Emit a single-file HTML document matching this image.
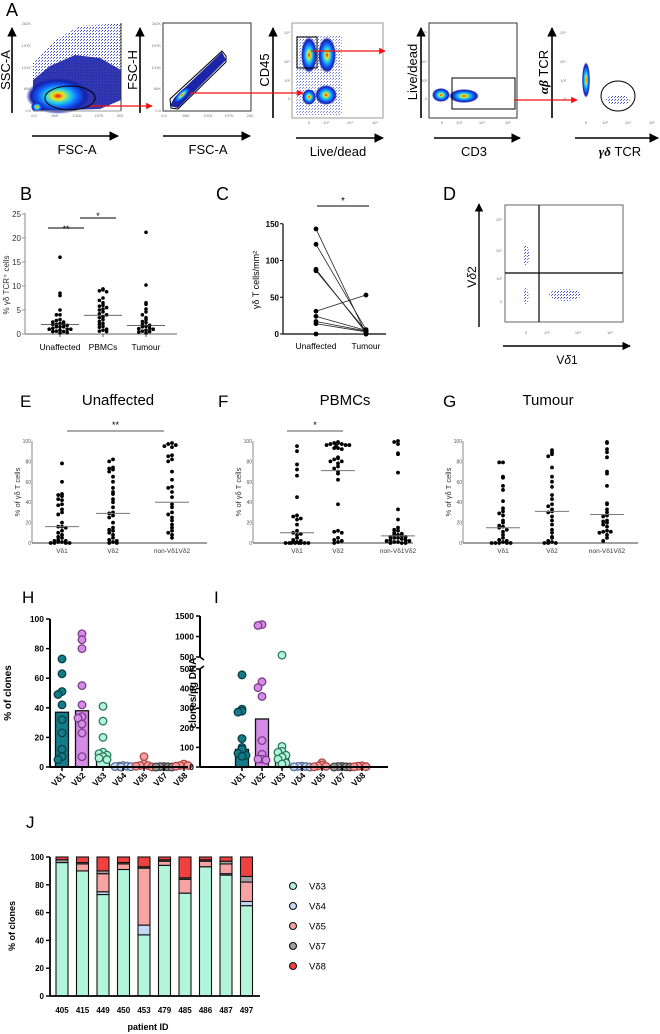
<!DOCTYPE html>
<html><head><meta charset="utf-8">
<style>
html,body{margin:0;padding:0;background:#fff;}
svg{display:block;font-family:"Liberation Sans",sans-serif;}
</style></head>
<body>
<svg id="fig" xmlns="http://www.w3.org/2000/svg" width="660" height="1034" viewBox="0 0 660 1034">
<defs>
<radialGradient id="jet">
<stop offset="0" stop-color="#e81010"/><stop offset="0.18" stop-color="#f2e21c"/><stop offset="0.38" stop-color="#22d4e6"/><stop offset="0.62" stop-color="#1262ff"/><stop offset="0.85" stop-color="#1522a8"/><stop offset="1" stop-color="#1522a8" stop-opacity="0"/>
</radialGradient>
<pattern id="dots" width="3" height="3" patternUnits="userSpaceOnUse"><rect x="0" y="0" width="1" height="1" fill="#3040d0"/><rect x="2" y="1" width="1" height="1" fill="#6070e0"/></pattern>
<marker id="ah" viewBox="0 0 10 10" refX="9" refY="5" markerWidth="6" markerHeight="6" orient="auto"><path d="M0,0 L10,5 L0,10 z" fill="#000"/></marker>
<marker id="ahr" viewBox="0 0 10 10" refX="9" refY="5" markerWidth="5" markerHeight="5" orient="auto"><path d="M0,0 L10,5 L0,10 z" fill="#f01010"/></marker>
</defs>

<g>
<text x="6" y="16" font-size="18">A</text>
<g>
<polygon points="33,111 33,62 55,40 80,26 121,23 121,98 105,108" fill="url(#dots)"/>
<polygon points="33,111 33,80 50,66 75,55 100,58 121,70 121,100 100,109" fill="#1c24a8" opacity="0.9"/>
<ellipse cx="58" cy="96" rx="32" ry="18" fill="url(#jet)"/>
<ellipse cx="37" cy="107" rx="6" ry="5" fill="url(#jet)"/>
<ellipse cx="70" cy="98" rx="25" ry="12" fill="none" stroke="#000" stroke-width="1"/>
<line x1="121" y1="23" x2="121" y2="111" stroke="#333"/>
<line x1="33" y1="111" x2="121" y2="111" stroke="#999"/>
<g font-size="4" fill="#777"><text x="31" y="25" text-anchor="end">262K</text><text x="31" y="47" text-anchor="end">197K</text><text x="31" y="69" text-anchor="end">131K</text><text x="31" y="90" text-anchor="end">66K</text><text x="31" y="112" text-anchor="end">0.0</text>
<text x="34" y="117" text-anchor="middle">0.0</text><text x="55" y="117" text-anchor="middle">66K</text><text x="77" y="117" text-anchor="middle">131K</text><text x="99" y="117" text-anchor="middle">197K</text><text x="120" y="117" text-anchor="middle">262</text></g>
</g>
<g>
<rect x="163" y="23" width="88" height="88" fill="none" stroke="#333"/>
<polygon points="170,106 174,98 222,52 226,60 178,108" fill="#1c24a8"/>
<ellipse cx="182" cy="95" rx="12" ry="4" transform="rotate(-45 182 95)" fill="url(#jet)"/>
<polygon points="171,108 170,99 222,51 226,56 226,62 178,109" fill="none" stroke="#000" stroke-width="1"/>
<g font-size="4" fill="#777"><text x="161" y="25" text-anchor="end">262K</text><text x="161" y="47" text-anchor="end">197K</text><text x="161" y="69" text-anchor="end">131K</text><text x="161" y="90" text-anchor="end">66K</text><text x="161" y="112" text-anchor="end">0.0</text>
<text x="164" y="117" text-anchor="middle">0.0</text><text x="186" y="117" text-anchor="middle">66K</text><text x="208" y="117" text-anchor="middle">131K</text><text x="229" y="117" text-anchor="middle">197K</text><text x="250" y="117" text-anchor="middle">262</text></g>
</g>
<g>
<rect x="292" y="23" width="91" height="95" fill="none" stroke="#999"/>
<rect x="296" y="35" width="46" height="80" fill="url(#dots)" opacity="0.7"/>
<ellipse cx="309" cy="55" rx="8" ry="18" fill="url(#jet)"/>
<ellipse cx="327" cy="55" rx="9" ry="18" fill="url(#jet)"/>
<ellipse cx="309" cy="97" rx="7" ry="8" fill="url(#jet)"/>
<ellipse cx="326" cy="95" rx="11" ry="10" fill="url(#jet)"/>
<rect x="297" y="37" width="20" height="31" fill="none" stroke="#000"/>
<g font-size="4" fill="#777"><text x="290" y="34" text-anchor="end">10⁵</text><text x="290" y="63" text-anchor="end">10⁴</text><text x="290" y="82" text-anchor="end">10³</text><text x="290" y="100" text-anchor="end">0</text>
<text x="309" y="124" text-anchor="middle">0</text><text x="326" y="124" text-anchor="middle">10³</text><text x="350" y="124" text-anchor="middle">10⁴</text><text x="375" y="124" text-anchor="middle">10⁵</text></g>
</g>
<g>
<rect x="429" y="23" width="88" height="95" fill="none" stroke="#333"/>
<ellipse cx="441" cy="95" rx="9" ry="7" fill="url(#jet)"/>
<ellipse cx="464" cy="96" rx="15" ry="7" fill="url(#jet)"/>
<rect x="452" y="78" width="63" height="31" fill="none" stroke="#000"/>
<g font-size="4" fill="#777"><text x="427" y="34" text-anchor="end">10⁵</text><text x="427" y="63" text-anchor="end">10⁴</text><text x="427" y="82" text-anchor="end">10³</text><text x="427" y="100" text-anchor="end">0</text>
<text x="442" y="124" text-anchor="middle">0</text><text x="459" y="124" text-anchor="middle">10³</text><text x="482" y="124" text-anchor="middle">10⁴</text><text x="508" y="124" text-anchor="middle">10⁵</text></g>
</g>
<g>
<ellipse cx="586" cy="80" rx="4" ry="18" fill="url(#jet)"/>
<ellipse cx="618" cy="100" rx="12" ry="5" fill="url(#dots)"/>
<ellipse cx="618" cy="96" rx="17" ry="15" fill="none" stroke="#000"/>
<g font-size="4" fill="#777"><text x="566" y="34" text-anchor="end">10⁵</text><text x="566" y="63" text-anchor="end">10⁴</text><text x="566" y="82" text-anchor="end">10³</text><text x="566" y="100" text-anchor="end">0</text>
<text x="586" y="124" text-anchor="middle">0</text><text x="605" y="124" text-anchor="middle">10³</text><text x="628" y="124" text-anchor="middle">10⁴</text><text x="652" y="124" text-anchor="middle">10⁵</text></g>
</g>
<g stroke="#000" stroke-width="1.6" marker-end="url(#ah)">
<line x1="12" y1="113" x2="12" y2="28"/><line x1="140" y1="113" x2="140" y2="28"/><line x1="273" y1="118" x2="273" y2="28"/><line x1="421" y1="118" x2="421" y2="28"/><line x1="552" y1="118" x2="552" y2="28"/>
<line x1="32" y1="136" x2="118" y2="136"/><line x1="163" y1="136" x2="250" y2="136"/><line x1="296" y1="138" x2="383" y2="138"/><line x1="434" y1="138" x2="520" y2="138"/><line x1="575" y1="138" x2="658" y2="138"/>
</g>
<g font-size="13">
<text transform="translate(10,70) rotate(-90)" text-anchor="middle">SSC-A</text>
<text transform="translate(137,70) rotate(-90)" text-anchor="middle">FSC-H</text>
<text transform="translate(269,70) rotate(-90)" text-anchor="middle">CD45</text>
<text transform="translate(417,72) rotate(-90)" text-anchor="middle">Live/dead</text>
<text transform="translate(548,72) rotate(-90)" text-anchor="middle"><tspan font-family="Liberation Serif" font-style="italic" font-weight="bold">αβ</tspan> TCR</text>
<text x="77" y="154" text-anchor="middle">FSC-A</text>
<text x="208" y="154" text-anchor="middle">FSC-A</text>
<text x="338" y="156" text-anchor="middle">Live/dead</text>
<text x="474" y="156" text-anchor="middle">CD3</text>
<text x="620" y="156" text-anchor="middle"><tspan font-family="Liberation Serif" font-style="italic" font-weight="bold">γδ</tspan> TCR</text>
</g>
<g stroke="#f01010" stroke-width="1.3" marker-end="url(#ahr)">
<line x1="90" y1="106" x2="152" y2="106"/><line x1="190" y1="93" x2="303" y2="93"/><line x1="311" y1="51" x2="385" y2="51"/><line x1="514" y1="100" x2="577" y2="100"/>
</g>
</g>

<g>
<text x="443" y="200" font-size="18">D</text>
<rect x="505" y="205" width="118" height="117" fill="none" stroke="#666"/>
<line x1="505" y1="273" x2="623" y2="273" stroke="#000" stroke-width="1.2"/>
<line x1="539" y1="205" x2="539" y2="322" stroke="#000" stroke-width="1.2"/>
<ellipse cx="526" cy="255" rx="3" ry="10" fill="url(#dots)"/>
<ellipse cx="526" cy="296" rx="2.5" ry="8" fill="url(#dots)"/>
<ellipse cx="565" cy="295" rx="16" ry="6" fill="url(#dots)"/>
<g font-size="4" fill="#777"><text x="502" y="221" text-anchor="end">10⁵</text><text x="502" y="252" text-anchor="end">10⁴</text><text x="502" y="280" text-anchor="end">10³</text><text x="502" y="303" text-anchor="end">0</text>
<text x="526" y="334" text-anchor="middle">0</text><text x="547" y="334" text-anchor="middle">10³</text><text x="578" y="334" text-anchor="middle">10⁴</text><text x="610" y="334" text-anchor="middle">10⁵</text></g>
<g stroke="#000" stroke-width="1.4" marker-end="url(#ah)"><line x1="479" y1="327" x2="479" y2="204"/><line x1="503" y1="346" x2="630" y2="346"/></g>
<text transform="translate(476,277) rotate(-90)" text-anchor="middle" font-size="12">V<tspan font-style="italic">δ</tspan>2</text>
<text x="567" y="364" text-anchor="middle" font-size="12">V<tspan font-style="italic">δ</tspan>1</text>
</g>

<g id="charts"></g>
</svg>

<script>
const bCategories = ["Unaffected","PBMCs","Tumour"];
const bUnaffected = [16,8.5,8,5,4,4,3,2.8,2.5,2.5,2.2,2,2,2,1.8,1.5,1.5,1.5,1.2,1,1,1,0.8,0.6,0.5,0.5,0.3,0.2];
const bPBMCs = [9.4,9.2,9,8.8,7.5,7,6.5,6,5.8,5.5,5.2,5,4.6,4.2,4,3.6,3.4,3,2.6,2.2,2,1.6,1.4,1,0.8,0.6,0.5];
const bTumour = [21.2,10.2,6.5,6.2,5.2,4.6,4,3.4,3,2.6,2.4,2,1.8,1.6,1.5,1.2,1.1,1,0.8,0.6,0.5,0.4,0.2];
const bMedians = [2,3.9,1.8];
const bTicks = [0,5,10,15,20,25];

const cCategories = ["Unaffected","Tumour"];
const cUnaffected = [143,122,88,86,31,24,17,14,0];
const cTumour = [0,6,2,4,53,5,4,3,0];
const cTicks = [0,50,100,150];

const efgCategories = ["Vδ1","Vδ2","non-Vδ1Vδ2"];
const eVd1 = [78,60,48,47,46,43,42,38,37,33,30,28,20,16,16,15,12,10,8,6,5,3,2,2,1,1,0,0,0,0];
const eVd2 = [82,80,74,73,72,70,65,60,54,50,48,43,40,35,30,29,27,25,20,15,13,12,10,8,5,3,2,1,0,0];
const eNon = [98,97,96,95,94,86,85,82,80,70,62,55,54,50,45,38,35,30,28,25,22,18,15,12,10,8,5];
const eMedians = [16,29,40];
const fVd1 = [95,90,77,72,66,45,27,26,24,23,18,12,10,9,8,5,3,2,1,1,0,0,0,0,0,0,0,0];
const fVd2 = [99,98,98,97,97,96,96,96,95,93,93,92,84,83,82,80,80,78,75,73,70,68,62,38,12,11,10,5,3,2,1,0];
const fNon = [100,99,97,88,87,69,33,23,15,13,12,10,9,8,8,7,6,6,5,5,4,3,3,2,2,1,1,0,0,0];
const fMedians = [10,71,7];
const gVd1 = [79,79,65,64,56,52,41,34,31,29,27,22,20,17,16,15,13,11,8,5,3,2,1,0,0,0,0,0];
const gVd2 = [91,89,87,85,74,65,60,55,47,43,38,36,33,31,30,26,22,18,13,10,6,5,2,1,0,0,0];
const gNon = [99,98,92,89,84,70,68,56,39,38,33,30,27,26,22,21,20,18,16,12,11,11,10,8,5,2];
const gMedians = [15,31,28];
const efgTicks = [0,20,40,60,80,100];

const hiCategories = ["Vδ1","Vδ2","Vδ3","Vδ4","Vδ5","Vδ7","Vδ8"];
const hBars = [37,38,7,0.5,1,0.3,1];
const hPoints = [
 [73,63,51,49,42,32,23,12,7,5],
 [90,86,80,55,42,34,33,29,23,7],
 [41,31,20,10,9,8,7,6,5],
 [1,0.5,0.5,0.3,0.2,0],
 [7,2,1,1,0.5,0],
 [0.3,0.2,0.1,0,0],
 [2,1,1,0.5]
];
const hTicks = [0,20,40,60,80,100];
const iBars = [90,245,60,3,8,2,5];
const iPoints = [
 [470,295,285,280,145,100,90,70,60,55],
 [1290,1270,435,405,360,135,65,40,40,35],
 [545,105,80,75,60,50,40,20,15],
 [4,3,2,1,0],
 [22,10,5,3,1],
 [3,2,1,0,0],
 [6,4,2,1]
];
const iTicksLow = [0,100,200,300,400,500];
const iTicksHigh = [500,1000,1500];

const jPatients = ["405","415","449","450","453","479","485","486","487","497"];
const jVd3 = [96,90,73,91,44,94,74,93,87,65];
const jVd4 = [0,0,2,0,7,0,0,0,1,3];
const jVd5 = [0,5,13,4,41,3,10,4,7,14];
const jVd7 = [2,1,2,1,1,1,1,1,2,4];
const jVd8 = [2,4,10,4,7,2,15,2,3,14];
const jSeriesNames = ["Vδ3","Vδ4","Vδ5","Vδ7","Vδ8"];
const jTicks = [0,20,40,60,80,100];

const NS = "http://www.w3.org/2000/svg";
const root = document.getElementById("charts");
function mk(tag, attrs, parent){
  const e = document.createElementNS(NS, tag);
  for (const k in attrs) e.setAttribute(k, attrs[k]);
  (parent||root).appendChild(e);
  return e;
}
function txt(str, attrs, parent){
  const t = mk("text", attrs, parent);
  t.textContent = str;
  return t;
}
function swarm(vals, cx, yf, r, gap, maxOff){
  const bins = {}; const out = [];
  vals.forEach(v => {
    const py = yf(v);
    const key = Math.round(py/(r*2));
    const k = bins[key] || 0; bins[key] = k+1;
    let off = k===0 ? 0 : (k%2 ? -1 : 1)*Math.ceil(k/2)*gap;
    if (maxOff && Math.abs(off) > maxOff){
      const n = Math.floor(maxOff/gap);
      const m = ((Math.ceil(k/2)-1) % n) + 1;
      off = (k%2 ? -1 : 1)*(m*gap - gap/2);
    }
    out.push([cx+off, py]);
  });
  return out;
}

(function(){
  const g = mk("g", {});
  
  
  const y = v => 334 - v*4.8;
  const cols = [60,103,146];
  const L = txt("B", {x:20, y:200, "font-size":18}, g);
  
  
  const ax = mk("line", {x1:25,y1:y(25)-1,x2:25,y2:334,stroke:"#999","stroke-width":1.2}, g);
  
  
  const xa = mk("line", {x1:25,y1:334,x2:177,y2:334,stroke:"#999","stroke-width":1.5}, g);
  
  
  bTicks.forEach(t => {
    const tk = txt(String(t), {x:21,y:y(t)+3,"font-size":8,"text-anchor":"end",fill:"#333"}, g);
    
    
    mk("line", {x1:22,y1:y(t),x2:25,y2:y(t),stroke:"#999"}, g);
  });
  for (let v=1; v<25; v++) if (v%5) mk("line",{x1:23.5,y1:y(v),x2:25,y2:y(v),stroke:"#bbb","stroke-width":0.6},g);
  const yt = txt("% γδ TCR⁺ cells", {transform:"translate(9,285) rotate(-90)","font-size":8,"text-anchor":"middle",fill:"#333"}, g);
  
  
  [bUnaffected,bPBMCs,bTumour].forEach((arr, ci) => {
    swarm(arr, cols[ci], y, 1.8, 3.6, 14).forEach(p => {
      const c = mk("circle", {cx:p[0], cy:p[1], r:1.8, fill:"#000"}, g);
      
      
    });
    const m = mk("line", {x1:cols[ci]-19,y1:y(bMedians[ci]),x2:cols[ci]+19,y2:y(bMedians[ci]),stroke:"#333","stroke-width":0.8}, g);
    
    
    const lb = txt(bCategories[ci], {x:cols[ci], y:350, "font-size":8.5, "text-anchor":"middle"}, g);
    
    
    mk("line",{x1:cols[ci],y1:334,x2:cols[ci],y2:337,stroke:"#555"},g);
  });
  const s1 = mk("line",{x1:48,y1:228,x2:84,y2:228,stroke:"#333","stroke-width":1.2},g);
  
  
  txt("**",{x:66,y:232,"font-size":9,"text-anchor":"middle"},g);
  const s2 = mk("line",{x1:80,y1:218,x2:116,y2:218,stroke:"#333","stroke-width":1.2},g);
  
  
  txt("*",{x:98,y:219,"font-size":9,"text-anchor":"middle"},g);
})();

(function(){
  const g = mk("g", {});
  
  
  const y = v => 334 - v*0.735;
  const xs = [316, 366];
  const L = txt("C", {x:216, y:200, "font-size":18}, g);
  
  
  const ax = mk("line", {x1:283,y1:y(150),x2:283,y2:334,stroke:"#000","stroke-width":1.2}, g);
  
  
  const xa = mk("line", {x1:283,y1:334,x2:386,y2:334,stroke:"#000","stroke-width":1.2}, g);
  
  
  cTicks.forEach(t => {
    const tk = txt(String(t), {x:279,y:y(t)+3,"font-size":8,"text-anchor":"end","font-weight":"bold"}, g);
    
    
    mk("line", {x1:280,y1:y(t),x2:283,y2:y(t),stroke:"#000"}, g);
  });
  const yt = txt("γδ  T cells/mm²", {transform:"translate(259,280) rotate(-90)","font-size":9,"text-anchor":"middle"}, g);
  
  
  cUnaffected.forEach((v,i) => {
    const ln = mk("line",{x1:xs[0],y1:y(v),x2:xs[1],y2:y(cTumour[i]),stroke:"#222","stroke-width":0.8},g);
    
    
    const a = mk("circle",{cx:xs[0],cy:y(v),r:2.4,fill:"#000"},g);
    
    
    const b = mk("circle",{cx:xs[1],cy:y(cTumour[i]),r:2.4,fill:"#000"},g);
    
    
  });
  cCategories.forEach((c,i)=>{
    const lb = txt(c,{x:xs[i],y:349,"font-size":8.5,"text-anchor":"middle"},g);
    
    
  });
  const s = mk("line",{x1:317,y1:206,x2:369,y2:206,stroke:"#000","stroke-width":1},g);
  
  
  txt("*",{x:343,y:204,"font-size":10,"text-anchor":"middle"},g);
})();

function efgPanel(name, letter, title, axX, axEnd, cols, series, medians, letterX, titleX, sig){
  const g = mk("g", {});
  
  
  const y = v => 543 - v*1.02;
  const L = txt(letter,{x:letterX,y:407,"font-size":17},g);
  
  
  const T = txt(title,{x:titleX,y:405,"font-size":15,"text-anchor":"middle"},g);
  
  
  const ax = mk("line",{x1:axX,y1:y(100),x2:axX,y2:543,stroke:"#888","stroke-width":1},g);
  
  
  const xa = mk("line",{x1:axX,y1:543,x2:axEnd,y2:543,stroke:"#666","stroke-width":1.2},g);
  
  
  efgTicks.forEach(t=>{
    const tk = txt(String(t),{x:axX-1,y:y(t)+2,"font-size":5,"text-anchor":"end",fill:"#555"},g);
    
    
  });
  const yt = txt("% of γδ T cells",{transform:`translate(${axX-12},492) rotate(-90)`,"font-size":7.5,"text-anchor":"middle",fill:"#333"},g);
  
  
  series.forEach((arr,ci)=>{
    swarm(arr, cols[ci], y, 1.9, 3.8, 14).forEach(p=>{
      const c = mk("circle",{cx:p[0],cy:p[1],r:1.9,fill:"#000"},g);
      
      
    });
    const m = mk("line",{x1:cols[ci]-17,y1:y(medians[ci]),x2:cols[ci]+17,y2:y(medians[ci]),stroke:"#777","stroke-width":1},g);
    
    
    const lb = txt(efgCategories[ci],{x:cols[ci],y:553,"font-size":6.5,"text-anchor":"middle",fill:"#333"},g);
    
    
  });
  if (sig){
    const s = mk("line",{x1:sig[0],y1:431,x2:sig[1],y2:431,stroke:"#555","stroke-width":1},g);
    
    
    txt(sig[2],{x:(sig[0]+sig[1])/2,y:428,"font-size":9,"text-anchor":"middle"},g);
  }
}
efgPanel('panel-e-unaffected','E','Unaffected',32,207,[62,113,172],[eVd1,eVd2,eNon],eMedians,20,118,[67,164,"**"]);
efgPanel('panel-f-pbmcs','F','PBMCs',253,413,[297,338,398],[fVd1,fVd2,fNon],fMedians,218,345,[287,343,"*"]);
efgPanel('panel-g-tumour','G','Tumour',463,638,[503,552,607],[gVd1,gVd2,gNon],gMedians,443,548,null);

const hiFill = ["#137c88","#d68be6","#b3f4dc","#c7d9f6","#f6a1a1","#9a9a9a","#f2a0a0"];
const hiStroke = ["#063f46","#7a3d8a","#2c7a60","#5a6f95","#b04848","#444","#b04040"];
function hiPanel(name, letter, letterX, axX, axEnd, cols, bars, pts, yf, ticksFn, title, titleX){
  const g = mk("g", {});
  
  
  const L = txt(letter,{x:letterX,y:603,"font-size":17},g);
  
  
  bars.forEach((v,i)=>{
    const b = mk("rect",{x:cols[i]-6.5,y:yf(v),width:13,height:767-yf(v),fill:hiFill[i],stroke:"#111","stroke-width":1.3},g);
    
    
  });
  pts.forEach((arr,i)=>{
    swarm(arr, cols[i], yf, 3.8, 4, 8).forEach(p=>{
      const c = mk("circle",{cx:p[0],cy:p[1],r:3.8,fill:hiFill[i],stroke:hiStroke[i],"stroke-width":1.3},g);
      
      
    });
  });
  const xa = mk("line",{x1:axX,y1:767,x2:axEnd,y2:767,stroke:"#000","stroke-width":2},g);
  
  
  hiCategories.forEach((c,i)=>{
    mk("line",{x1:cols[i],y1:767,x2:cols[i],y2:771,stroke:"#000","stroke-width":1.5},g);
    const lb = txt(c,{transform:`translate(${cols[i]+4},776) rotate(-45)`,"font-size":8.5,"font-weight":"bold","text-anchor":"end"},g);
    
    
  });
  ticksFn(g);
  const yt = txt(title,{transform:`translate(${titleX},693) rotate(-90)`,"font-size":10,"font-weight":"bold","text-anchor":"middle"},g);
  
  
}
const yH = v => 767 - v*1.48;
hiPanel('panel-h-percent-clones','H',22,50,188,[62,82,103,123,144,164,184],hBars,hPoints,yH,g=>{
  const ax = mk("line",{x1:50,y1:yH(100),x2:50,y2:767,stroke:"#000","stroke-width":2},g);
  
  
  hTicks.forEach(t=>{
    mk("line",{x1:46,y1:yH(t),x2:50,y2:yH(t),stroke:"#000","stroke-width":1.5},g);
    const tk = txt(String(t),{x:44,y:yH(t)+3,"font-size":8.5,"font-weight":"bold","text-anchor":"end"},g);
    
    
  });
},'% of clones',11);
const yI = v => v<=500 ? 767 - v*0.196 : 657 - (v-500)*0.041;
hiPanel('panel-i-clones-per-ug','I',214,200,388,[242,262,282,302,322,342,362],iBars,iPoints,yI,g=>{
  const a1 = mk("line",{x1:200,y1:669,x2:200,y2:767,stroke:"#000","stroke-width":2},g);
  
  
  const a2 = mk("line",{x1:200,y1:616,x2:200,y2:657,stroke:"#000","stroke-width":2},g);
  
  
  mk("line",{x1:200,y1:669,x2:204,y2:666,stroke:"#000","stroke-width":1.5},g);
  mk("line",{x1:200,y1:657,x2:204,y2:660,stroke:"#000","stroke-width":1.5},g);
  iTicksLow.forEach(t=>{
    mk("line",{x1:196,y1:yI(t),x2:200,y2:yI(t),stroke:"#000","stroke-width":1.5},g);
    const tk = txt(String(t),{x:194,y:yI(t)+3,"font-size":8.5,"font-weight":"bold","text-anchor":"end"},g);
    
    
  });
  iTicksHigh.forEach(t=>{
    const py = t===500 ? 657 : yI(t);
    mk("line",{x1:196,y1:py,x2:200,y2:py,stroke:"#000","stroke-width":1.5},g);
    const tk = txt(String(t),{x:194,y:py+3,"font-size":8.5,"font-weight":"bold","text-anchor":"end"},g);
    
    
  });
},'clones/µg DNA',196);

(function(){
  const g = mk("g", {});
  
  
  const y = v => 996 - v*1.39;
  const cols = jPatients.map((p,i)=>62 + i*20.5);
  const colors = ["#b3f5dc","#c5d9f7","#f7a3a3","#a0a0a0","#f04040"];
  const series = [jVd3,jVd4,jVd5,jVd7,jVd8];
  const L = txt("J",{x:26,y:828,"font-size":17},g);
  
  
  jPatients.forEach((p,i)=>{
    let acc = 0;
    series.forEach((s,si)=>{
      const v = s[i];
      if (v>0){
        const r = mk("rect",{x:cols[i]-6,y:y(acc+v),width:12,height:y(acc)-y(acc+v),fill:colors[si],stroke:"#111","stroke-width":1.1},g);
        
        
      }
      acc += v;
    });
    const lb = txt(p,{x:cols[i],y:1013,"font-size":8,"font-weight":"bold","text-anchor":"middle"},g);
    
    
  });
  const ax = mk("line",{x1:50,y1:y(100),x2:50,y2:996,stroke:"#000","stroke-width":1.8},g);
  
  
  const xa = mk("line",{x1:50,y1:996,x2:260,y2:996,stroke:"#000","stroke-width":1.8},g);
  
  
  jTicks.forEach(t=>{
    mk("line",{x1:46,y1:y(t),x2:50,y2:y(t),stroke:"#000","stroke-width":1.4},g);
    const tk = txt(String(t),{x:44,y:y(t)+3,"font-size":8,"font-weight":"bold","text-anchor":"end"},g);
    
    
  });
  const yt = txt("% of clones",{transform:"translate(15,926) rotate(-90)","font-size":9,"font-weight":"bold","text-anchor":"middle"},g);
  
  
  const xt = txt("patient ID",{x:148,y:1030,"font-size":9,"font-weight":"bold","text-anchor":"middle"},g);
  
  
  jSeriesNames.forEach((n,i)=>{
    const cy = 886 + i*20;
    const c = mk("circle",{cx:293,cy:cy,r:3.5,fill:colors[i],stroke:"#111","stroke-width":1.1},g);
    
    
    const t = txt(n,{x:309,y:cy+3.5,"font-size":9.5},g);
    
    
  });
})();
</script>
</body></html>
